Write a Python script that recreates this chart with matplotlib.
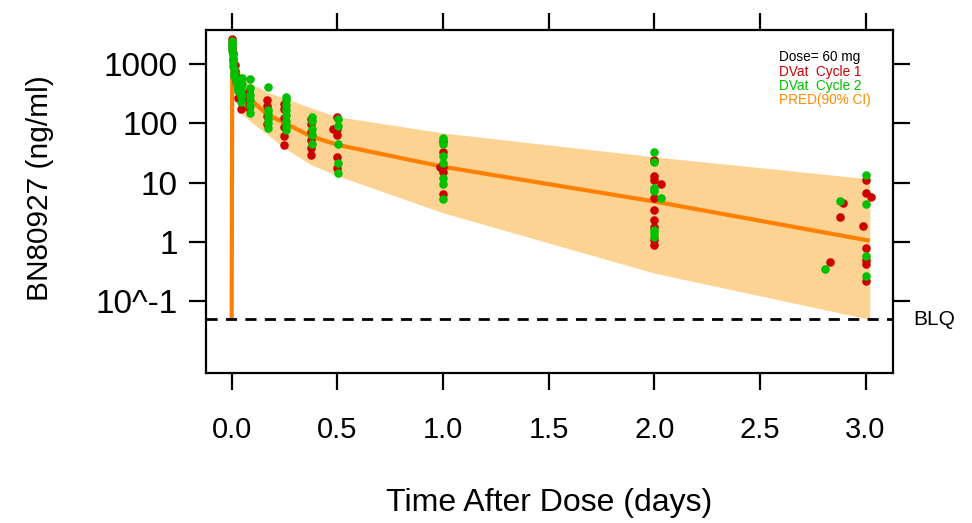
import numpy as np
import matplotlib
matplotlib.use('Agg')
import matplotlib.pyplot as plt
from matplotlib.ticker import NullLocator, FixedLocator, FixedFormatter
import matplotlib.transforms as mtransforms

plt.rcParams['font.family'] = ['Liberation Sans', 'DejaVu Sans']

# observed concentrations, cycle 1 (red)
c1_time = [0.0, 0.0, 0.0, 0.007, 0.007, 0.014, 0.014, 0.021, 0.021, 0.031, 0.031,
           0.042, 0.042, 0.042, 0.042, 0.083, 0.083, 0.083, 0.083, 0.083,
           0.167, 0.167, 0.167, 0.167,
           0.25, 0.25, 0.25, 0.25, 0.25, 0.25,
           0.375, 0.375, 0.375, 0.375, 0.375, 0.375,
           0.5, 0.5, 0.5, 0.5, 0.5, 0.48,
           1.0, 1.0, 1.0, 1.0, 1.0, 0.986,
           2.0, 2.0, 2.0, 2.0, 2.0, 2.0, 2.0, 2.0, 2.0, 2.03,
           2.83, 2.895, 2.88,
           3.0, 3.0, 3.0, 3.0, 3.0, 3.0, 3.025, 2.99]
c1_conc = [2550, 2200, 1800, 1500, 1200, 950, 750, 620, 500, 400, 260,
           330, 277, 240, 170, 350, 290, 240, 200, 180,
           243, 193, 130, 95,
           210, 170, 120, 85, 60, 43,
           115, 95, 70, 52, 38, 29,
           128, 78, 63, 27, 17.4, 78,
           50.5, 33, 18, 15.2, 6.4, 18,
           24, 12.8, 11, 5.4, 3.5, 2.3, 1.8, 1.1, 0.9, 9.6,
           0.465, 4.6, 2.6,
           11.1, 6.6, 0.78, 0.49, 0.42, 0.22, 5.6, 1.86]

# observed concentrations, cycle 2 (green)
c2_time = [0.0, 0.0, 0.0, 0.0, 0.005, 0.005, 0.005, 0.005, 0.012, 0.012, 0.012,
           0.02, 0.02, 0.03, 0.03, 0.03, 0.042, 0.042, 0.042, 0.042, 0.05, 0.05,
           0.087, 0.087, 0.087, 0.087, 0.087, 0.087,
           0.17, 0.17, 0.17, 0.17, 0.17, 0.17,
           0.255, 0.255, 0.255, 0.255, 0.255, 0.255, 0.255, 0.255,
           0.379, 0.379, 0.379, 0.379, 0.379,
           0.505, 0.505, 0.505, 0.505, 0.505,
           1.0, 1.0, 1.0, 1.0, 1.0, 1.0, 1.0,
           2.0, 2.0, 2.0, 2.0, 2.0, 2.0, 2.0, 2.03,
           2.81, 2.88,
           3.0, 3.0, 3.0, 3.0]
c2_conc = [2420, 2100, 1900, 1600, 1400, 1200, 1050, 900, 800, 700, 620,
           560, 480, 420, 380, 340, 407, 330, 280, 228, 570, 450,
           555, 383, 300, 240, 190, 146,
           407, 165, 140, 115, 100, 82,
           277, 240, 200, 165, 135, 110, 90, 75,
           128, 110, 80, 62, 45,
           115, 90, 45, 21, 14.6,
           55, 44, 28, 21, 11.7, 9.6, 5.2,
           33, 22, 8, 7.3, 1.6, 1.4, 1.2, 5.4,
           0.35, 4.9,
           13.4, 4.3, 0.58, 0.27]

# population prediction: median and 90% interval
pred_time = [0.0, 0.003, 0.0104, 0.0208, 0.0417, 0.0833, 0.167, 0.25, 0.375, 0.5, 1.0, 2.0, 3.02]
pred_med = [0.05, 1500, 900, 600, 380, 260, 140, 100, 60, 43, 18.4, 4.8, 1.05]
pred_lo = [np.nan, 1200, 700, 400, 150, 110, 65, 38, 20, 13, 3.1, 0.30, 0.05]
pred_hi = [np.nan, 2600, 2000, 1300, 700, 480, 330, 260, 180, 128, 68, 27, 11.5]

blq = 0.05
ytick_vals = [1000, 100, 10, 1, 0.1]
ytick_labels = ['1000', '100', '10', '1', '10^-1']
xtick_vals = [0.0, 0.5, 1.0, 1.5, 2.0, 2.5, 3.0]

fig = plt.figure(figsize=(9.72, 5.23), dpi=100)
ax = fig.add_axes([0.2116, 0.2868, 0.7071, 0.6558])
ax.set_yscale('log')

ax.fill_between(pred_time[1:], pred_lo[1:], pred_hi[1:], color='#FDD394', lw=0, zorder=1)
ax.plot(pred_time, pred_med, color='#FF7F00', lw=3, zorder=2, solid_capstyle='butt')
ax.axhline(blq, color='black', ls=(0, (4, 3)), lw=2, zorder=2)

ax.scatter(c1_time, c1_conc, s=38, color='#CD0000', lw=0, zorder=3)
ax.scatter(c2_time, c2_conc, s=38, color='#00C000', lw=0, zorder=4)

ax.set_xlim(-0.123, 3.13)
ax.set_ylim(0.00628, 3656)

ax.yaxis.set_minor_locator(NullLocator())
ax.yaxis.set_major_locator(FixedLocator(ytick_vals))
ax.yaxis.set_major_formatter(FixedFormatter(ytick_labels))
ax.set_xticks(xtick_vals)
ax.set_xticklabels(['%.1f' % v for v in xtick_vals])

for s in ax.spines.values():
    s.set_linewidth(1.6)
ax.tick_params(which='both', direction='out', length=12, width=1.6,
               top=True, right=True)
ax.tick_params(axis='x', labelsize=21, pad=19)
ax.tick_params(axis='y', labelsize=24, pad=8)

trans = mtransforms.blended_transform_factory(ax.transAxes, ax.transData)
ax.text(1.029, blq, 'BLQ', transform=trans, fontsize=15, va='center', ha='left')

# legend text block
leg_lines = ['Dose= 60 mg', 'DVat  Cycle 1', 'DVat  Cycle 2', 'PRED(90% CI)']
leg_colors = ['black', '#CD0000', '#00C000', '#FF8C00']
leg_y = [0.922, 0.879, 0.838, 0.795]
for txt, col, yy in zip(leg_lines, leg_colors, leg_y):
    ax.text(0.834, yy, txt, transform=ax.transAxes, color=col, fontsize=9.8,
            va='center', ha='left')

fig.text(549.4 / 972, 1 - 503 / 523, 'Time After Dose (days)', fontsize=23,
         ha='center', va='center')
fig.text(40 / 972, 1 - 188 / 523, 'BN80927 (ng/ml)', fontsize=21.5, rotation=90,
         ha='center', va='center')

fig.savefig('out.png', dpi=100)
